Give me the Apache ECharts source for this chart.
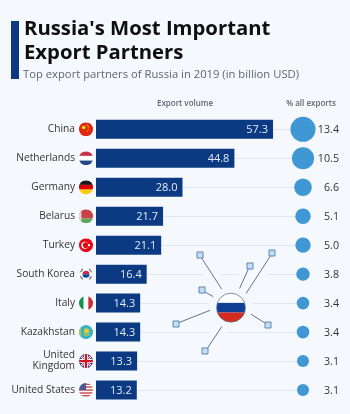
<!DOCTYPE html>
<html>
<head>
<meta charset="utf-8">
<style>
  html, body { margin: 0; padding: 0; background: #f5f8fc; }
  #chart { width: 350px; height: 414px; }
</style>
<script src="https://cdn.jsdelivr.net/npm/echarts@6/dist/echarts.min.js"></script>
</head>
<body>
<div id="chart"></div>
<script>
const countries = ['China', 'Netherlands', 'Germany', 'Belarus', 'Turkey', 'South Korea', 'Italy', 'Kazakhstan', 'United\nKingdom', 'United States']
const exportVolume = [57.3, 44.8, 28.0, 21.7, 21.1, 16.4, 14.3, 14.3, 13.3, 13.2]
const exportShare = [13.4, 10.5, 6.6, 5.1, 5.0, 3.8, 3.4, 3.4, 3.1, 3.1]

const FONT = '"Open Sans", sans-serif'
const BG = '#f5f8fc'

// 小圆形国旗，内容是 24x24 的 svg
function round(inner) {
  return 'image://data:image/svg+xml;utf8,' + encodeURIComponent(
    '<svg xmlns="http://www.w3.org/2000/svg" width="48" height="48" viewBox="0 0 24 24">' +
    '<defs><clipPath id="c"><circle cx="12" cy="12" r="12"/></clipPath></defs>' +
    '<g clip-path="url(#c)">' + inner + '</g></svg>')
}
function hBands(a, b, c) {
  return `<rect width="24" height="8" fill="${a}"/><rect y="8" width="24" height="8" fill="${b}"/><rect y="16" width="24" height="8" fill="${c}"/>`
}
const flags = [
  round('<rect width="24" height="24" fill="#de2910"/><circle cx="8" cy="9" r="3" fill="#ffde00"/><circle cx="14" cy="5" r="1" fill="#ffde00"/><circle cx="16" cy="8" r="1" fill="#ffde00"/><circle cx="16" cy="12" r="1" fill="#ffde00"/><circle cx="14" cy="15" r="1" fill="#ffde00"/>'),
  round(hBands('#c8324a', '#ffffff', '#21468b')),
  round(hBands('#1a1a1a', '#dd0000', '#ffce00')),
  round('<rect width="24" height="16" fill="#c8424c"/><rect y="16" width="24" height="8" fill="#5da75a"/><rect width="4" height="24" fill="#e9dcd4"/>'),
  round('<rect width="24" height="24" fill="#e30a17"/><circle cx="10" cy="12" r="6" fill="#fff"/><circle cx="11.5" cy="12" r="4.8" fill="#e30a17"/><circle cx="17" cy="12" r="2" fill="#fff"/>'),
  round('<rect width="24" height="24" fill="#fff"/><path d="M6 12a6 6 0 0 1 12 0z" fill="#cd2e3a"/><path d="M6 12a6 6 0 0 0 12 0z" fill="#0047a0"/><path d="M3 6l4-3M2 9l3-3M21 6l-4-3M22 9l-3-3M3 18l4 3M2 15l3 3M21 18l-4 3M22 15l-3 3" stroke="#222" stroke-width="1.5"/>'),
  round('<rect width="8" height="24" fill="#12924a"/><rect x="8" width="8" height="24" fill="#fff"/><rect x="16" width="8" height="24" fill="#ce2b37"/>'),
  round('<rect width="24" height="24" fill="#35b3c4"/><rect width="3" height="24" fill="#d8c23a"/><circle cx="13" cy="10" r="4.5" fill="#e6c92e"/><path d="M7 16q6 3 12 0" stroke="#e6c92e" stroke-width="1.6" fill="none"/>'),
  round('<rect width="24" height="24" fill="#24367f"/><path d="M0 0L24 24M24 0L0 24" stroke="#fff" stroke-width="4"/><path d="M0 0L24 24M24 0L0 24" stroke="#cf142b" stroke-width="1.6"/><path d="M12 0V24M0 12H24" stroke="#fff" stroke-width="7"/><path d="M12 0V24M0 12H24" stroke="#cf142b" stroke-width="4"/>'),
  round('<rect width="24" height="24" fill="#fff"/><path d="M0 2h24M0 7h24M0 12h24M0 17h24M0 22h24" stroke="#c9505f" stroke-width="2.5"/><rect width="12" height="12" fill="#4a5a94"/>')
]
const russiaFlag = round(hBands('#ffffff', '#0f3f94', '#d52b1e')).replace('image://', '')

// 俄罗斯图标的连线：起点在圆边，终点是小方块
const spokes = [
  [224, 292.7, 199.7, 255], [237.7, 292.7, 249.7, 266], [244, 296.7, 272.3, 253],
  [217.3, 299, 201.7, 290], [214.3, 308.7, 176, 323.7], [248, 312.3, 268, 325], [224, 323.3, 205.3, 351.3]
]
const networkGraphics = []
spokes.forEach((s) => {
  networkGraphics.push({
    type: 'line', z: 50,
    shape: { x1: s[0], y1: s[1], x2: s[2], y2: s[3] },
    style: { stroke: BG, lineWidth: 14, lineCap: 'round' }
  })
})
spokes.forEach((s) => {
  networkGraphics.push({
    type: 'line', z: 51,
    shape: { x1: s[0], y1: s[1], x2: s[2], y2: s[3] },
    style: { stroke: '#66758c', lineWidth: 1 }
  })
  networkGraphics.push({
    type: 'rect', z: 52,
    shape: { x: Math.round(s[2]) - 3, y: Math.round(s[3]) - 3, width: 6, height: 6 },
    style: { fill: '#c4def7', stroke: '#5c86b4', lineWidth: 1 }
  })
})

const chart = echarts.init(document.getElementById('chart'), null, { renderer: 'canvas' })
chart.setOption({
  backgroundColor: BG,
  animation: false,
  textStyle: { fontFamily: FONT },
  title: [
    {
      text: "Russia's Most Important\nExport Partners", left: 24, top: 17, padding: 0,
      textStyle: { fontFamily: FONT, fontWeight: 700, fontSize: 20.3, lineHeight: 24, color: '#0f0f0f' }
    },
    {
      text: 'Top export partners of Russia in 2019 (in billion USD)', left: 23, top: 69, padding: 0,
      textStyle: { fontFamily: FONT, fontWeight: 400, fontSize: 11.25, color: '#5f6670' }
    },
    {
      text: 'Export volume', left: 185, top: 100, textAlign: 'center', padding: 0,
      textStyle: { fontFamily: FONT, fontWeight: 600, fontSize: 8, color: '#5f6670' }
    },
    {
      text: '% all exports', left: 311, top: 100, textAlign: 'center', padding: 0,
      textStyle: { fontFamily: FONT, fontWeight: 600, fontSize: 8, color: '#5f6670' }
    }
  ],
  graphic: [
    { type: 'rect', shape: { x: 11, y: 21, width: 8, height: 58 }, style: { fill: '#0b3a82' } },
    ...networkGraphics,
    { type: 'circle', z: 53, shape: { cx: 231, cy: 307.7, r: 21 }, style: { fill: BG } },
    {
      type: 'image', z: 54,
      style: { image: russiaFlag, x: 216.5, y: 293.2, width: 29, height: 29 }
    },
    {
      type: 'circle', z: 55, shape: { cx: 231, cy: 307.7, r: 14.5 },
      style: { fill: 'none', stroke: '#66758c', lineWidth: 0.8 }
    }
  ],
  grid: [
    // 柱状图
    { left: 96, top: 114.8, width: 207, height: 289.7 },
    // 圆点和连接线，最右端就是圆心
    { left: 96, top: 129.3, width: 207, height: 260.7 },
    // 国旗
    { left: 76, top: 114.8, width: 20, height: 289.7 }
  ],
  xAxis: [
    { gridIndex: 0, type: 'value', min: 0, max: 67, show: false },
    { gridIndex: 1, type: 'category', data: ['start', 'share'], boundaryGap: false, show: false },
    { gridIndex: 2, type: 'category', data: ['flag'], show: false }
  ],
  yAxis: [
    {
      gridIndex: 0, type: 'category', data: countries, inverse: true,
      axisLine: { show: false }, axisTick: { show: false },
      axisLabel: { color: '#333333', fontFamily: FONT, fontSize: 10.2, lineHeight: 11, margin: 21, align: 'right', interval: 0, padding: [2, 0, 0, 0] }
    },
    {
      gridIndex: 1, type: 'category', data: countries, inverse: true, boundaryGap: false,
      axisLine: { show: false }, axisTick: { show: false }, axisLabel: { show: false },
      splitLine: { show: true, interval: 0, lineStyle: { color: '#e0e7f1', width: 1 } }
    },
    {
      gridIndex: 2, type: 'category', data: countries, inverse: true,
      axisLine: { show: false }, axisTick: { show: false }, axisLabel: { show: false }
    }
  ],
  series: [
    {
      name: 'Export volume',
      type: 'bar',
      xAxisIndex: 0,
      yAxisIndex: 0,
      data: exportVolume,
      barWidth: 19,
      itemStyle: { color: '#0b3a82' },
      label: {
        show: true,
        position: 'insideRight',
        distance: 5,
        offset: [0, 1],
        color: '#e4ecf8',
        fontFamily: FONT,
        fontSize: 11,
        formatter: (p) => p.value.toFixed(1)
      }
    },
    {
      name: '% all exports',
      type: 'scatter',
      xAxisIndex: 1,
      yAxisIndex: 1,
      data: exportShare.map((v, i) => ['share', countries[i], v]),
      symbolSize: (d) => Math.sqrt(d[2]) * 6.85,
      itemStyle: { color: '#3f97d3', opacity: 1 },
      label: {
        show: true,
        position: 'inside',
        offset: [36, 1],
        align: 'right',
        color: '#333333',
        fontFamily: FONT,
        fontSize: 10.7,
        formatter: (p) => p.value[2].toFixed(1)
      }
    },
    {
      name: 'flags',
      type: 'scatter',
      xAxisIndex: 2,
      yAxisIndex: 2,
      symbolSize: 14,
      itemStyle: { opacity: 1 },
      data: countries.map((c, i) => ({ value: ['flag', c], symbol: flags[i] }))
    }
  ]
})
</script>
</body>
</html>
